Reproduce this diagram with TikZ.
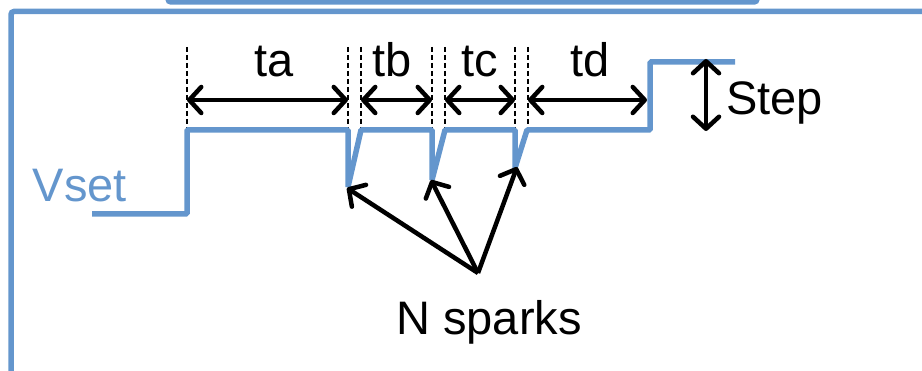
\documentclass[tikz,border=0pt]{standalone}
\usepackage{fontspec}
\setmainfont{Liberation Sans}
\usetikzlibrary{arrows.meta}
\definecolor{sigblue}{RGB}{100,150,205}
\begin{document}
\begin{tikzpicture}[x=1pt,y=-1pt,
  signal/.style={draw=sigblue, line width=5.5pt, line join=bevel},
  frameline/.style={draw=sigblue, line width=5.5pt, rounded corners=3pt},
  guide/.style={draw=black, line width=1.3pt, dash pattern=on 5pt off 3pt},
  barb/.tip={Straight Barb[length=12pt,width=26pt,line cap=round,line join=round]},
  span/.style={draw=black, line width=4.5pt, barb-barb},
  pointer/.style={draw=black, line width=4.5pt, -barb},
  lbl/.style={font=\fontsize{47}{50}\selectfont, inner sep=0pt, anchor=base}
]
\useasboundingbox (0,0) rectangle (922,371);

% panel borders
\draw[frameline] (168,-8) -- (168,2) -- (757,2) -- (757,-8);
\draw[frameline] (11,380) -- (11,11.5) -- (935,11.5);

% waveform points
\coordinate (v0) at (92,214);
\coordinate (v1) at (187,214);
\coordinate (v2) at (187,130);
\coordinate (s1a) at (348,130);
\coordinate (s1b) at (348,187);
\coordinate (s1c) at (361,130);
\coordinate (s2a) at (432,130);
\coordinate (s2b) at (432,180);
\coordinate (s2c) at (445,130);
\coordinate (s3a) at (515,130);
\coordinate (s3b) at (515,168);
\coordinate (s3c) at (527,130);
\coordinate (u1) at (650,130);
\coordinate (u2) at (650,62);
\coordinate (v9) at (735,62);

% dashed timing guides
\foreach \gx [count=\i] in {187,348,361,432,445,515,528} {
  \coordinate (g\i top) at (\gx,47);
  \coordinate (g\i bot) at (\gx,130);
  \draw[guide] (g\i top) -- (g\i bot);
}

% Vset signal
\draw[signal] (v0) -- (v1) -- (v2) -- (s1a) -- (s1b) -- (s1c) -- (s2a) -- (s2b)
  -- (s2c) -- (s3a) -- (s3b) -- (s3c) -- (u1) -- (u2) -- (v9);

% interval arrows
\coordinate (a1) at (187,100);
\coordinate (a2) at (348,100);
\coordinate (b1) at (361,100);
\coordinate (b2) at (432,100);
\coordinate (c1) at (445,100);
\coordinate (c2) at (515,100);
\coordinate (d1) at (528,100);
\coordinate (d2) at (647,100);
\draw[span] (a1) -- (a2);
\draw[span] (b1) -- (b2);
\draw[span] (c1) -- (c2);
\draw[span] (d1) -- (d2);

% step height arrow
\coordinate (st1) at (706,59);
\coordinate (st2) at (706,131);
\draw[span] (st1) -- (st2);

% labels
\node[lbl] (ta) at (274,77) {ta};
\node[lbl] (tb) at (392,77) {tb};
\node[lbl] (tc) at (480,77) {tc};
\node[lbl] (td) at (590,77) {td};
\node[lbl, anchor=base west] (step) at (726,115) {Step};
\node[lbl, text=sigblue] (vset) at (80,202) {Vset};
\node[lbl] (sparks) at (489,335) {N sparks};

% spark pointers
\coordinate (hub) at (478,273);
\coordinate (p1) at (347,188);
\coordinate (p2) at (431,180);
\coordinate (p3) at (517,167);
\draw[pointer] (hub) -- (p1);
\draw[pointer] (hub) -- (p2);
\draw[pointer] (hub) -- (p3);
\end{tikzpicture}
\end{document}
